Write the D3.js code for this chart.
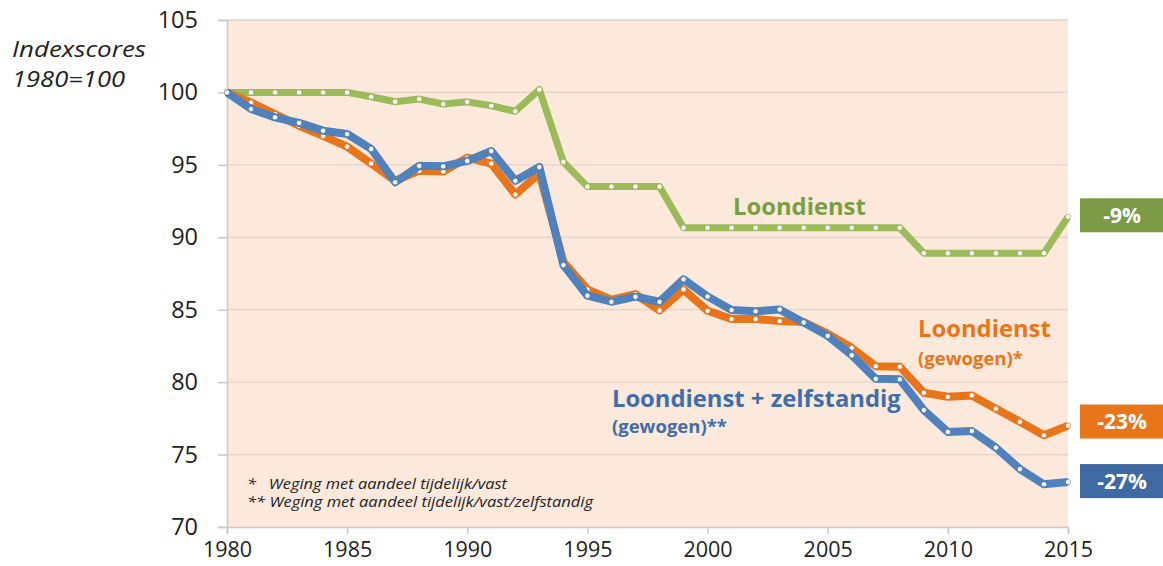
<!DOCTYPE html>
<html>
<head>
<meta charset="utf-8">
<script src="https://cdn.jsdelivr.net/npm/d3@7"></script>
<style>
  body { margin: 0; background: #fff; }
  svg { display: block; font-family: "Open Sans", Lato, sans-serif; }
</style>
</head>
<body>
<div class="visContainer"></div>
<script>
const years = [1980, 1981, 1982, 1983, 1984, 1985, 1986, 1987, 1988, 1989,
               1990, 1991, 1992, 1993, 1994, 1995, 1996, 1997, 1998, 1999,
               2000, 2001, 2002, 2003, 2004, 2005, 2006, 2007, 2008, 2009,
               2010, 2011, 2012, 2013, 2014, 2015];

// Loondienst
const loondienst = [100, 100, 100, 100, 100, 100, 99.7, 99.36, 99.54, 99.2,
                    99.35, 99.08, 98.7, 100.2, 95.2, 93.5, 93.5, 93.5, 93.5, 90.66,
                    90.66, 90.66, 90.66, 90.66, 90.66, 90.66, 90.66, 90.66, 90.66, 88.9,
                    88.9, 88.9, 88.9, 88.9, 88.9, 91.42];

// Loondienst (gewogen)*
const gewogen = [100, 99.31, 98.5, 97.7, 97.0, 96.26, 95.1, 93.9, 94.6, 94.54,
                 95.5, 95.09, 92.95, 94.4, 88.3, 86.4, 85.7, 86.08, 84.95, 86.4,
                 84.93, 84.36, 84.36, 84.22, 84.15, 83.35, 82.37, 81.1, 81.07, 79.27,
                 78.99, 79.08, 78.17, 77.27, 76.33, 77.0];

// Loondienst + zelfstandig (gewogen)**
const zelfstandig = [100, 98.85, 98.28, 97.9, 97.36, 97.13, 96.1, 93.8, 94.93, 94.9,
                     95.27, 95.96, 93.9, 94.85, 88.08, 85.97, 85.55, 85.9, 85.55, 87.1,
                     85.92, 84.98, 84.89, 85.02, 84.12, 83.2, 81.86, 80.23, 80.2, 78.07,
                     76.56, 76.63, 75.48, 74.0, 72.95, 73.1];

const xTicks = [1980, 1985, 1990, 1995, 2000, 2005, 2010, 2015];
const yTicks = [70, 75, 80, 85, 90, 95, 100, 105];
const changes = ['-9%', '-23%', '-27%'];

const width = 1163;
const height = 566;
const plotLeft = 227, plotRight = 1068, plotTop = 20, plotBottom = 527;

const xScale = d3.scaleLinear().domain([1980, 2015]).range([plotLeft, plotRight]);
const yScale = d3.scaleLinear().domain([70, 105]).range([plotBottom, plotTop]);

const svg = d3.select('.visContainer')
              .append('svg')
              .attr('width', width)
              .attr('height', height);

// plot background
svg.append('rect')
   .attr('x', plotLeft).attr('y', plotTop)
   .attr('width', plotRight - plotLeft).attr('height', plotBottom - plotTop)
   .attr('fill', '#fde9dc');

// gridlines
svg.append('g')
   .selectAll('line')
   .data(yTicks.filter(d => d > 70))
   .enter()
   .append('line')
   .attr('x1', plotLeft).attr('x2', plotRight)
   .attr('y1', d => yScale(d)).attr('y2', d => yScale(d))
   .attr('stroke', '#e3d3c7')
   .attr('stroke-width', 1.3);

const xAxis = d3.axisBottom(xScale).tickValues(xTicks).tickFormat(d3.format('d')).tickSize(7).tickPadding(8);
const yAxis = d3.axisLeft(yScale).tickValues(yTicks).tickSize(9).tickPadding(20);

svg.append('g')
   .attr('id', 'x-axis')
   .attr('transform', 'translate(0, ' + plotBottom + ')')
   .call(xAxis)
   .call(g => g.select('.domain').attr('stroke', '#c8c8c8').attr('stroke-width', 1.5))
   .call(g => g.selectAll('.tick line').attr('stroke', '#c8c8c8').attr('stroke-width', 1.5))
   .call(g => g.selectAll('.tick text').attr('font-size', 21.5).attr('fill', '#222').attr('font-family', '"Open Sans", sans-serif'));

svg.append('g')
   .attr('id', 'y-axis')
   .attr('transform', 'translate(' + plotLeft + ', 0)')
   .call(yAxis)
   .call(g => g.select('.domain').attr('stroke', '#c8c8c8').attr('stroke-width', 1.5))
   .call(g => g.selectAll('.tick line').attr('stroke', '#c8c8c8').attr('stroke-width', 1.5))
   .call(g => g.selectAll('.tick text').attr('font-size', 23.5).attr('fill', '#222').attr('font-family', '"Open Sans", sans-serif'));

// axis title
svg.append('text')
   .attr('x', 12).attr('y', 57)
   .attr('font-size', 22).attr('font-style', 'italic').attr('fill', '#222')
   .attr('textLength', 134).attr('lengthAdjust', 'spacingAndGlyphs')
   .text('Indexscores');
svg.append('text')
   .attr('x', 12).attr('y', 87)
   .attr('font-size', 22).attr('font-style', 'italic').attr('fill', '#222')
   .attr('textLength', 113).attr('lengthAdjust', 'spacingAndGlyphs')
   .text('1980=100');

const series = [
    {values: loondienst, color: '#9bbb59', dot: '#88a84a', w: 7},
    {values: gewogen, color: '#e8751a', dot: '#c85f0c', w: 8},
    {values: zelfstandig, color: '#4f81bd', dot: '#35679f', w: 8}
];

const line = d3.line()
               .x((d, i) => xScale(years[i]))
               .y(d => yScale(d));

series.forEach(s => {
    svg.append('path')
       .datum(s.values)
       .attr('d', line)
       .attr('fill', 'none')
       .attr('stroke', s.color)
       .attr('stroke-width', s.w)
       .attr('stroke-linejoin', 'round');
    svg.append('g')
       .selectAll('circle')
       .data(s.values)
       .enter()
       .append('circle')
       .attr('cx', (d, i) => xScale(years[i]))
       .attr('cy', d => yScale(d))
       .attr('r', 2.6)
       .attr('fill', '#fff')
       .attr('stroke', s.dot)
       .attr('stroke-width', 0.6);
});

// series labels
svg.append('text')
   .attr('x', xScale(2001.06)).attr('y', yScale(91.54))
   .attr('font-size', 23.8).attr('font-weight', 'bold').attr('fill', '#77a042')
   .text('Loondienst');

svg.append('text')
   .attr('x', xScale(2008.76)).attr('y', yScale(83.1))
   .attr('font-size', 23.8).attr('font-weight', 'bold').attr('fill', '#e8751a')
   .text('Loondienst');
svg.append('text')
   .attr('x', xScale(2008.76)).attr('y', yScale(81.18))
   .attr('font-size', 18.5).attr('font-weight', 'bold').attr('fill', '#e8751a')
   .text('(gewogen)*');

svg.append('text')
   .attr('x', xScale(1996.02)).attr('y', yScale(78.28))
   .attr('font-size', 23.8).attr('font-weight', 'bold').attr('fill', '#3f6ea8')
   .text('Loondienst + zelfstandig');
svg.append('text')
   .attr('x', xScale(1996.02)).attr('y', yScale(76.49))
   .attr('font-size', 18.5).attr('font-weight', 'bold').attr('fill', '#3f6ea8')
   .text('(gewogen)**');

// change boxes at 2015
const boxes = [
    {label: changes[0], value: loondienst[35], color: '#7b9b46'},
    {label: changes[1], value: gewogen[35], color: '#e8751a'},
    {label: changes[2], value: zelfstandig[35], color: '#3f6aa1'}
];
const boxOffsets = [0.1, 0.28, 0.07];
boxes.forEach((b, i) => {
    const cy = yScale(b.value + boxOffsets[i]);
    svg.append('rect')
       .attr('x', 1080).attr('y', cy - 17)
       .attr('width', 90).attr('height', 34)
       .attr('fill', b.color);
    svg.append('text')
       .attr('x', 1122).attr('y', cy + 7.5)
       .attr('text-anchor', 'middle')
       .attr('font-size', 21).attr('font-weight', 'bold').attr('fill', '#fff')
       .text(b.label);
});

// footnotes
svg.append('text')
   .attr('x', 247).attr('y', 489)
   .attr('font-size', 14.5).attr('font-style', 'italic').attr('fill', '#222')
   .attr('xml:space', 'preserve')
   .attr('textLength', 260).attr('lengthAdjust', 'spacingAndGlyphs')
   .text('*   Weging met aandeel tijdelijk/vast');
svg.append('text')
   .attr('x', 247).attr('y', 507)
   .attr('font-size', 14.5).attr('font-style', 'italic').attr('fill', '#222')
   .attr('textLength', 346).attr('lengthAdjust', 'spacingAndGlyphs')
   .text('** Weging met aandeel tijdelijk/vast/zelfstandig');
</script>
</body>
</html>
